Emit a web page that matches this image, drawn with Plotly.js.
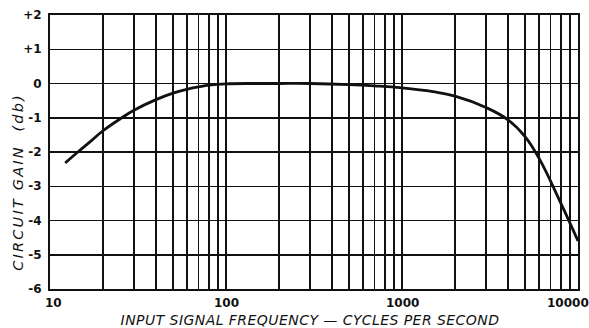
<!DOCTYPE html>
<html>
<head>
<meta charset="utf-8">
<script src="https://cdn.plot.ly/plotly-3.0.1.min.js"></script>
<style>html,body{margin:0;padding:0;background:#fff;}#chart{width:589px;height:328px;}</style>
</head>
<body>
<div id="chart"></div>
<script>
// Data
const freq = [12.2, 14.4, 17, 20, 25.6, 30, 40, 50, 60, 70, 80, 100, 150, 200, 300, 500, 700, 1000, 1500, 2000, 3000, 4000, 5000, 6000, 8000, 10000];
const gain = [-2.32, -2.0, -1.69, -1.38, -1.0, -0.78, -0.47, -0.28, -0.17, -0.1, -0.05, -0.01, 0, 0, 0, -0.03, -0.07, -0.13, -0.24, -0.37, -0.7, -1.06, -1.55, -2.18, -3.5, -4.6];

const xGrid = [10,20,30,40,50,60,70,80,90,100,200,300,400,500,600,700,800,900,1000,2000,3000,4000,5000,6000,7000,8000,9000,10000];
const xLabelVals = [10, 100, 1000, 10000];
const xLabels = ['10', '100', '1000', '10000'];
const yTicks = [2, 1, 0, -1, -2, -3, -4, -5, -6];
const yLabels = ['+2', '+1', '0', '-1', '-2', '-3', '-4', '-5', '-6'];
const xTitle = 'INPUT SIGNAL FREQUENCY — CYCLES PER SECOND';
const yTitle = 'CIRCUIT GAIN  (db)';

const tickFont = {family: 'DejaVu Sans', size: 12, color: '#111', weight: 'bold'};
const titleFont = {family: 'DejaVu Sans', size: 14, color: '#111', style: 'italic'};
const labelShift = [3, 0, 0, -10];

const annotations = xLabelVals.map((v, i) => ({
  text: xLabels[i], xref: 'x', yref: 'paper', x: Math.log10(v), y: 0,
  xanchor: 'center', yanchor: 'top', yshift: -5, xshift: labelShift[i],
  showarrow: false, font: tickFont
}));
annotations.push({
  text: xTitle, xref: 'paper', yref: 'paper', x: 0.492, y: -0.113,
  xanchor: 'center', yanchor: 'middle', showarrow: false, font: titleFont
});
annotations.push({
  text: yTitle, textangle: -90, xref: 'paper', yref: 'paper', x: -0.0606, y: 0.392,
  xanchor: 'center', yanchor: 'middle', showarrow: false,
  font: {family: 'DejaVu Sans', size: 14.5, color: '#111', style: 'italic'}
});

function place(textEl, cx, cy) {
  const r = textEl.getBoundingClientRect();
  const dx = cx - (r.left + r.width / 2);
  const dy = cy - (r.top + r.height / 2);
  const g = textEl.parentNode;
  const t = g.getAttribute('transform') || '';
  g.setAttribute('transform', 'translate(' + dx + ',' + dy + ') ' + t);
}

Plotly.newPlot('chart', [{
  x: freq, y: gain, type: 'scatter', mode: 'lines',
  line: {color: '#111', width: 2.8, shape: 'spline', smoothing: 1.2},
  hoverinfo: 'none'
}], {
  width: 589, height: 328,
  margin: {l: 50, r: 11, t: 15, b: 39},
  paper_bgcolor: '#fff', plot_bgcolor: '#fff',
  showlegend: false,
  xaxis: {
    type: 'log', range: [1, 4],
    tickmode: 'array', tickvals: xGrid, showticklabels: false,
    showgrid: true, gridcolor: '#111', gridwidth: 1.5,
    showline: true, linecolor: '#111', linewidth: 2, mirror: true,
    ticks: '', zeroline: false
  },
  yaxis: {
    range: [-6, 2],
    tickmode: 'array', tickvals: yTicks, ticktext: yLabels,
    showgrid: true, gridcolor: '#111', gridwidth: 1.5,
    showline: true, linecolor: '#111', linewidth: 2, mirror: true,
    ticks: '', tickfont: tickFont, zeroline: false, ticklabelstandoff: 4
  },
  annotations: annotations
}, {displayModeBar: false, staticPlot: true}).then(() => {
  const texts = document.querySelectorAll('#chart .annotation-text');
  if (texts.length >= 6) {
    texts[4].style.letterSpacing = '0.45px';
    texts[5].style.letterSpacing = '2.2px';
    place(texts[4], 310, 320);
    place(texts[5], 18, 181.5);
  }
});
</script>
</body>
</html>
